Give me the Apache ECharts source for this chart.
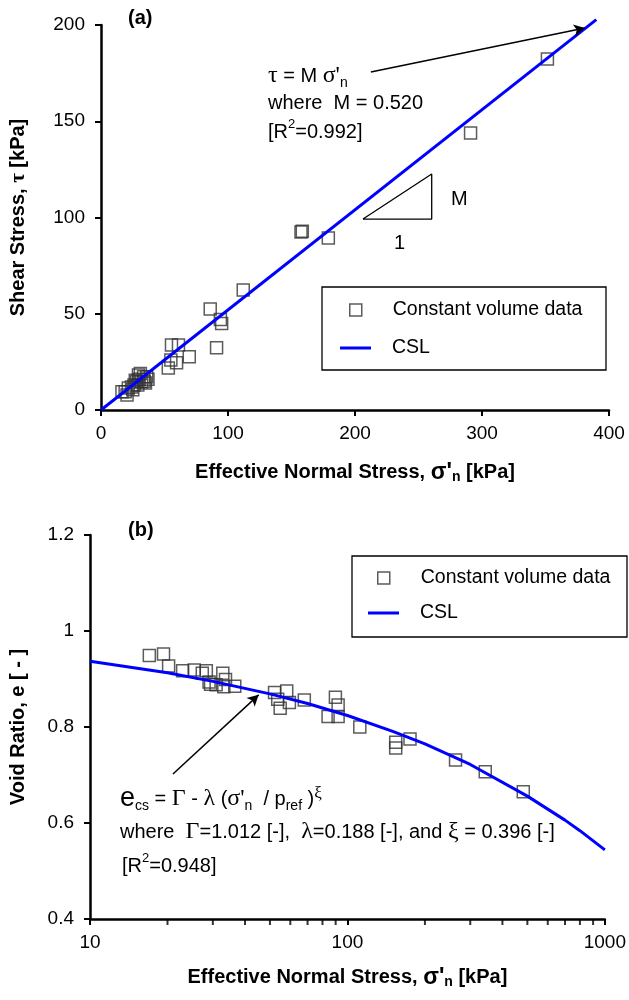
<!DOCTYPE html>
<html>
<head>
<meta charset="utf-8">
<script src="https://cdn.jsdelivr.net/npm/echarts@6/dist/echarts.min.js"></script>
<style>
  html, body { margin: 0; padding: 0; background: #fff; }
  #chart { width: 629px; height: 1000px; }
</style>
</head>
<body>
<div id="chart"></div>
<script>
// (a) shear stress vs effective normal stress
const sigmaA = [351.5, 291, 157.5, 158.5, 179, 112, 86, 94, 95, 91, 69.5, 55.5, 61, 55, 59.5, 53,
    29.5, 33.5, 36, 32, 28, 21.5, 19, 16.5, 20.5, 26, 30, 34, 24, 31, 27, 35, 29, 37, 25];
const tauA = [182.3, 143.9, 92.5, 92.8, 89.4, 62.3, 52.5, 47, 45, 32.3, 27.7, 33.8, 33.8, 26, 24.6, 21.8,
    18.2, 17.3, 17.3, 14.7, 14.7, 11.4, 9.5, 9.5, 7.8, 13, 16, 15, 12, 19, 15.5, 14, 13, 16, 10.5];
const cslA = [[0, 0], [390, 202.8]];
const slopeTriangle = [[206.3, 99.2], [260.4, 122.6], [260.4, 99.2], [206.3, 99.2]];
const arrowA = [[212.5, 175.6], [381, 198.4]];

// (b) void ratio vs effective normal stress (log)
const sigmaB = [17.0, 19.3, 20.2, 22.9, 25.4, 27.3, 28.3, 29.0, 32.8, 33.6, 29.4, 30.9, 33.1, 36.5,
    52.1, 58.1, 53.6, 59.5, 54.8, 68.0, 89.8, 92.0, 84.1, 92.0, 111.7, 154, 154, 175, 263, 343, 482];
const voidB = [0.949, 0.952, 0.927, 0.917, 0.919, 0.912, 0.917, 0.894, 0.912, 0.899, 0.889, 0.888, 0.884, 0.885,
    0.872, 0.875, 0.858, 0.851, 0.839, 0.856, 0.862, 0.846, 0.822, 0.822, 0.800, 0.768, 0.756, 0.775, 0.731, 0.707, 0.665];
const cslSigmaB = [10, 20, 30, 50, 70, 100, 150, 200, 300, 500, 700, 800, 1000];
const cslVoidB = [0.937, 0.913, 0.895, 0.869, 0.849, 0.824, 0.791, 0.765, 0.722, 0.656, 0.606, 0.584, 0.544];
const arrowB = [[21.0, 0.702], [45.2, 0.867]];
const minorTicksB = [20, 30, 40, 50, 60, 70, 80, 90, 200, 300, 400, 500, 600, 700, 800, 900];

const FONT = "Arial, 'Liberation Sans', sans-serif";
const SERIF = "'Liberation Serif', 'DejaVu Serif', serif";
const BLUE = "#0000ff";
const SQUARE = "#333333";

const axisLine = { show: true, onZero: false, lineStyle: { color: "#000", width: 2.5 } };
const axisTick = { show: true, inside: false, length: 6, lineStyle: { color: "#000", width: 2 } };
const axisLabel = { color: "#000", fontSize: 19, fontFamily: FONT };

const nameRich = {
    s: { fontSize: 23, fontWeight: "bold", fontFamily: FONT, color: "#000" },
    sub: { fontSize: 14, fontWeight: "bold", fontFamily: FONT, color: "#000", verticalAlign: "bottom", padding: [9, 0, 0, 0] },
    g: { fontSize: 21, fontWeight: "bold", fontFamily: SERIF, color: "#000" },
};
const nameStyle = { color: "#000", fontSize: 20, fontWeight: "bold", fontFamily: FONT, rich: nameRich };

const textRich = {
    g: { fontSize: 24, fontFamily: SERIF, fill: "#000", lineHeight: 28 },
    e: { fontSize: 27, fontFamily: FONT, fill: "#000", lineHeight: 28 },
    t: { fontSize: 20, fontFamily: FONT, fill: "#000", lineHeight: 28 },
    sub: { fontSize: 14, fontFamily: FONT, fill: "#000", verticalAlign: "bottom", lineHeight: 28 },
    sup: { fontSize: 13, fontFamily: FONT, fill: "#000", verticalAlign: "top", lineHeight: 28 },
    gsup: { fontSize: 17, fontFamily: SERIF, fill: "#000", verticalAlign: "top", lineHeight: 26 },
};

function note(x, y, text, extra) {
    return {
        type: "text", x, y, silent: true,
        style: Object.assign({ text, rich: textRich, fontSize: 20, fontFamily: FONT, fill: "#000",
            align: "left", verticalAlign: "middle" }, extra || {}),
    };
}

function scatterSeries(xIdx, xs, ys) {
    return {
        name: "Constant volume data", type: "scatter", xAxisIndex: xIdx, yAxisIndex: xIdx,
        symbol: "rect", symbolSize: 12,
        itemStyle: { color: "rgba(0,0,0,0)", borderColor: SQUARE, borderWidth: 1.5 },
        data: xs.map((x, i) => [x, ys[i]]),
        z: 3,
    };
}

function arrowLine(pts) {
    return {
        silent: true, symbol: ["none", "arrow"], symbolSize: [9, 11],
        lineStyle: { color: "#000", width: 1.5, type: "solid" },
        label: { show: false },
        data: [[{ coord: pts[0] }, { coord: pts[1] }]],
    };
}

function legendItem(name, left, top, w, h, textPad, style) {
    return {
        data: [name], left, top, orient: "vertical", padding: 0,
        itemWidth: w, itemHeight: h, icon: "rect", selectedMode: false,
        itemStyle: style,
        textStyle: { color: "#000", fontSize: 19.5, fontFamily: FONT, padding: [0, 0, 0, textPad] },
    };
}

let chartDom = document.getElementById("chart");
let myChart = echarts.init(chartDom, null, { renderer: "canvas" });

let option = {
    backgroundColor: "#fff",
    animation: false,
    grid: [
        { left: 99, top: 25, width: 510, height: 385 },
        { left: 90, top: 535, width: 519, height: 384 },
    ],
    xAxis: [
        {
            gridIndex: 0, type: "value", min: 0, max: 400, interval: 100,
            axisLine, axisTick, axisLabel: { ...axisLabel, margin: 14 }, splitLine: { show: false },
            name: "Effective Normal Stress, {s|σ'}{sub|n} [kPa]",
            nameLocation: "middle", nameGap: 51, nameTextStyle: nameStyle,
        },
        {
            gridIndex: 1, type: "log", logBase: 10, min: 10, max: 1000,
            axisLine, axisTick,
            axisLabel: { ...axisLabel, margin: 14, formatter: (v) => String(v) },
            splitLine: { show: false }, minorTick: { show: false },
            name: "Effective Normal Stress, {s|σ'}{sub|n} [kPa]",
            nameLocation: "middle", nameGap: 47, nameTextStyle: nameStyle,
        },
    ],
    yAxis: [
        {
            gridIndex: 0, type: "value", min: 0, max: 200, interval: 50,
            axisLine, axisTick, axisLabel: { ...axisLabel, margin: 16 }, splitLine: { show: false },
            name: "Shear Stress, {g|τ} [kPa]",
            nameLocation: "middle", nameGap: 72, nameTextStyle: nameStyle,
        },
        {
            gridIndex: 1, type: "value", min: 0.4, max: 1.2, interval: 0.2,
            axisLine, axisTick, axisLabel: { ...axisLabel, margin: 16 }, splitLine: { show: false },
            name: "Void Ratio, e [ - ]",
            nameLocation: "middle", nameGap: 62, nameTextStyle: nameStyle,
        },
    ],
    legend: [
        legendItem("Constant volume data", 349, 300, 12, 12, 26,
            { color: "rgba(0,0,0,0)", borderColor: SQUARE, borderWidth: 1.5 }),
        legendItem("CSL", 340, 338, 31, 3, 16, { color: BLUE, borderWidth: 0 }),
        legendItem("Constant volume data", 377, 568, 12, 12, 26,
            { color: "rgba(0,0,0,0)", borderColor: SQUARE, borderWidth: 1.5 }),
        legendItem("CSL", 368, 603, 31, 3, 16, { color: BLUE, borderWidth: 0 }),
    ],
    graphic: [
        { type: "rect", silent: true, shape: { x: 322, y: 287, width: 284, height: 83 },
          style: { fill: "#fff", stroke: "#000", lineWidth: 1.3 }, z: 1 },
        { type: "rect", silent: true, shape: { x: 352, y: 556, width: 275, height: 81 },
          style: { fill: "#fff", stroke: "#000", lineWidth: 1.3 }, z: 1 },
        note(128, 18, "(a)", { fontWeight: "bold", fontSize: 20 }),
        note(128, 530, "(b)", { fontWeight: "bold", fontSize: 20 }),
        note(268, 76, "{g|τ}{t| = M }{g|σ'}{sub|n}"),
        note(268, 103, "{t|where  M = 0.520}"),
        note(268, 132, "{t|[R}{sup|2}{t|=0.992]}"),
        note(451, 199, "{t|M}"),
        note(394, 243, "{t|1}"),
        note(120, 799, "{e|e}{sub|cs}{t| = }{g|Γ}{t| - }{g|λ}{t| (}{g|σ'}{sub|n}{t|  / p}{sub|ref}{t| )}{gsup|ξ}"),
        note(120, 832, "{t|where  }{g|Γ}{t|=1.012 [-],  }{g|λ}{t|=0.188 [-], and }{g|ξ}{t| = 0.396 [-]}"),
        note(122, 866, "{t|[R}{sup|2}{t|=0.948]}"),
    ],
    series: [
        scatterSeries(0, sigmaA, tauA),
        {
            name: "CSL", type: "line", xAxisIndex: 0, yAxisIndex: 0, data: cslA,
            showSymbol: false, symbol: "none", clip: false,
            lineStyle: { color: BLUE, width: 3 }, itemStyle: { color: BLUE }, z: 4,
            markLine: arrowLine(arrowA),
        },
        {
            name: "slope", type: "line", xAxisIndex: 0, yAxisIndex: 0, data: slopeTriangle,
            showSymbol: false, symbol: "none", silent: true,
            lineStyle: { color: "#000", width: 1.3 },
        },
        scatterSeries(1, sigmaB, voidB),
        {
            name: "CSL", type: "line", xAxisIndex: 1, yAxisIndex: 1,
            data: cslSigmaB.map((x, i) => [x, cslVoidB[i]]),
            showSymbol: false, symbol: "none", clip: false,
            lineStyle: { color: BLUE, width: 3 }, itemStyle: { color: BLUE }, z: 4,
            markLine: arrowLine(arrowB),
        },
        {
            name: "minor", type: "scatter", xAxisIndex: 1, yAxisIndex: 1, silent: true,
            data: minorTicksB.map((x) => [x, 0.4]),
            symbol: "rect", symbolSize: [2, 5], symbolOffset: [0, 3.5], clip: false,
            itemStyle: { color: "#000" },
        },
    ],
};

option && myChart.setOption(option);
</script>
</body>
</html>
